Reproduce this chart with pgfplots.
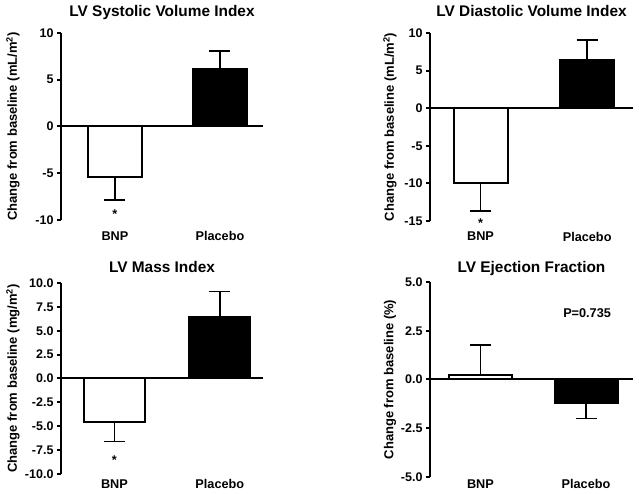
\documentclass[border=0pt]{standalone}
\usepackage{fontspec}
\setmainfont{Liberation Sans}
\usepackage{pgfplots}
\pgfplotsset{compat=1.18}
\pgfplotsset{
  panel/.style={
    scale only axis, anchor=south west, clip=false,
    axis y line*=left, axis x line*=bottom,
    x axis line style={draw=none},
    y axis line style={line width=2pt, -},
    xtick={0,1}, xticklabels={BNP,Placebo},
    xtick style={draw=none},
    ytick style={line width=2pt, black},
    tick align=outside, major tick length=4pt,
    /pgf/number format/assume math mode=true,
    yticklabel style={font=\bfseries\fontsize{12.5}{13}\selectfont},
    title style={font=\bfseries\fontsize{15.4}{16}\selectfont, at={(axis description cs:0.5,1)}, anchor=base},
    ylabel style={font=\bfseries\fontsize{13}{14}\selectfont},
  },
  ebar/.style={
    error bars/y explicit,
    error bars/error bar style={line width=1.6pt, solid},
    error bars/error mark options={line width=1.6pt, mark size=10.5pt, rotate=90}},
  wbar/.style={ybar, bar shift=0pt, fill=white, draw=black, line width=2pt, ebar, error bars/y dir=minus},
  bbar/.style={ybar, bar shift=0pt, fill=black, draw=black, line width=2pt, ebar, error bars/y dir=plus},
}
\begin{document}
\begin{tikzpicture}
\useasboundingbox (0pt,0pt) rectangle (639pt,494pt);
% Panel 1
\begin{axis}[panel, at={(61pt,274pt)}, width=202pt, height=187pt,
  xmin=-0.514, xmax=1.41, ymin=-10, ymax=10, ytick={-10,-5,0,5,10},
  title={LV Systolic Volume Index}, title style={yshift=10pt},
  ylabel={Change from baseline (mL/m\textsuperscript{2})},
  ylabel style={at={(axis description cs:-0.238,0.5)}, anchor=center},
  xticklabel style={font=\bfseries\fontsize{12.7}{14}\selectfont, anchor=north, yshift=-4pt}]
\addplot[wbar, bar width=54pt] coordinates {(0,-5.35) -= (0,2.5)};
\addplot[bbar, bar width=54pt] coordinates {(1,6.2) += (0,1.9)};
\addplot[black, line width=2pt] coordinates {(-0.514,0) (1.41,0)};
\node[font=\bfseries\fontsize{12.7}{14}\selectfont, yshift=-2.5pt] at (axis cs:0,-9.1) {*};
\end{axis}
% Panel 2
\begin{axis}[panel, at={(430pt,273pt)}, width=203pt, height=188pt,
  xmin=-0.474, xmax=1.43, ymin=-15, ymax=10, ytick={-15,-10,-5,0,5,10},
  title={LV Diastolic Volume Index}, title style={yshift=10pt},
  ylabel={Change from baseline (mL/m\textsuperscript{2})},
  ylabel style={at={(axis description cs:-0.197,0.5)}, anchor=center},
  xticklabel style={font=\bfseries\fontsize{12.7}{14}\selectfont, anchor=north, yshift=-3.5pt}]
\addplot[wbar, bar width=54pt] coordinates {(0,-10.0) -= (0,3.65)};
\addplot[bbar, bar width=54pt] coordinates {(1,6.45) += (0,2.65)};
\addplot[black, line width=2pt] coordinates {(-0.474,0) (1.43,0)};
\node[font=\bfseries\fontsize{12.7}{14}\selectfont, yshift=-2.5pt] at (axis cs:0,-15.0) {*};
\end{axis}
% Panel 3
\begin{axis}[panel, at={(61pt,20pt)}, width=202pt, height=191pt,
  xmin=-0.507, xmax=1.41, ymin=-10, ymax=10, ytick={-10,-7.5,-5,-2.5,0,2.5,5,7.5,10},
  yticklabel style={/pgf/number format/.cd, fixed, fixed zerofill, precision=1},
  title={LV Mass Index}, title style={yshift=4pt},
  ylabel={Change from baseline (mg/m\textsuperscript{2})},
  ylabel style={at={(axis description cs:-0.238,0.5)}, anchor=center},
  xticklabel style={font=\bfseries\fontsize{12.7}{14}\selectfont, anchor=north, yshift=2pt}]
\addplot[wbar, bar width=61pt] coordinates {(0,-4.56) -= (0,2.05)};
\addplot[bbar, bar width=61pt] coordinates {(1,6.4) += (0,2.7)};
\addplot[black, line width=2pt] coordinates {(-0.507,0) (1.41,0)};
\node[font=\bfseries\fontsize{12.7}{14}\selectfont, yshift=-2.5pt] at (axis cs:0,-8.27) {*};
\end{axis}
% Panel 4
\begin{axis}[panel, at={(430pt,17pt)}, width=203pt, height=195pt,
  xmin=-0.478, xmax=1.445, ymin=-5, ymax=5, ytick={-5,-2.5,0,2.5,5},
  yticklabel style={/pgf/number format/.cd, fixed, fixed zerofill, precision=1},
  title={LV Ejection Fraction}, title style={yshift=3pt},
  ylabel={Change from baseline (\%)},
  ylabel style={at={(axis description cs:-0.197,0.5)}, anchor=center},
  xticklabel style={font=\bfseries\fontsize{12.7}{14}\selectfont, anchor=north, yshift=5pt}]
\addplot[bbar, fill=white, bar width=63pt] coordinates {(0,0.24) += (0,1.52)};
\addplot[wbar, fill=black, bar width=63pt] coordinates {(1,-1.2) -= (0,0.8)};
\addplot[black, line width=2pt] coordinates {(-0.478,0) (1.445,0)};
\node[font=\bfseries\fontsize{12.7}{14}\selectfont] at (axis cs:1.01,3.42) {P=0.735};
\end{axis}
\end{tikzpicture}
\end{document}
